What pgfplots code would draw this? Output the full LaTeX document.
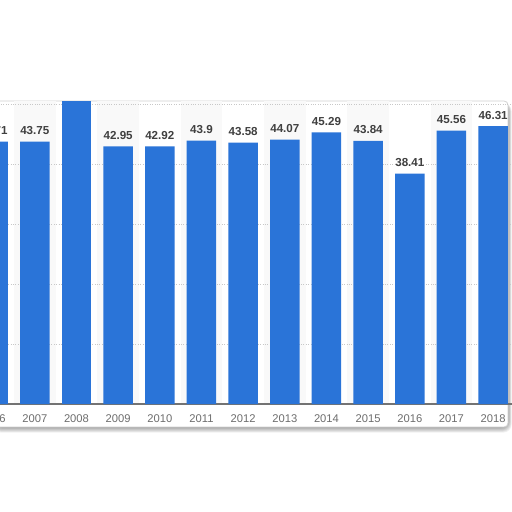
\documentclass[border=0pt]{standalone}
\usepackage{fontspec}
\setmainfont{Liberation Sans}
\usepackage{pgfplots}
\pgfplotsset{compat=1.18}
\definecolor{barblue}{RGB}{42,116,216}
\definecolor{lblgray}{RGB}{64,64,64}
\definecolor{tickgray}{RGB}{110,110,110}
\definecolor{colshade}{RGB}{249,249,249}
\definecolor{gridgray}{RGB}{200,200,200}
\begin{document}
\begin{tikzpicture}[x=1pt,y=1pt]
\useasboundingbox (0,0) rectangle (512,512);
\clip (0,0) rectangle (512,512);
\fill[white] (0,0) rectangle (512,512);
% shadow of the card
\foreach \i in {1,...,7}{
  \fill[black,opacity=0.055,rounded corners=8pt] (-5-\i*0.3,85-\i*0.8) rectangle (508+\i*0.5,409);
}
\fill[white,draw=black!18,line width=0.8pt,rounded corners=4pt] (-5,85) rectangle (508,411);
% faint column shading (odd years)
\foreach \k in {0,2,4,6,8,10}{
  \fill[colshade] ({34.8+\k*41.67-20.83},108) rectangle ({34.8+\k*41.67+20.83},410.5);
}
\begin{axis}[
  at={(-11.03pt,108pt)}, anchor=south west,
  scale only axis, width=523.03pt, height=303pt,
  xmin=2005.9, xmax=2018.452,
  ymin=0, ymax=50.5,
  axis x line*=bottom, axis y line*=left,
  x axis line style={draw=black!55,line width=1.5pt,-},
  y axis line style={draw=none},
  ytick={10,20,30,40,50}, yticklabels={}, ytick style={draw=none},
  ymajorgrids, major grid style={gridgray,dotted,line width=0.7pt},
  xtick={2006,...,2018},
  xticklabels={2006,2007,2008,2009,2010,2011,2012,2013,2014,2015,2016,2017,2018},
  xtick style={draw=none},
  xticklabel style={anchor=base,yshift=-18pt,font=\fontsize{11.2}{13}\selectfont,text=tickgray},
  /pgf/number format/assume math mode=true,
  clip=true,
]
\addplot[ybar,bar width=29.5pt,bar shift=0pt,fill=barblue,draw=none,
  nodes near coords={\pgfmathprintnumber[fixed,precision=2]{\pgfplotspointmeta}},
  nodes near coords style={anchor=base,inner sep=0pt,yshift=7pt,font=\bfseries\fontsize{11.6}{13}\selectfont,text=lblgray}]
coordinates {
(2006,43.71) (2007,43.75) (2009,42.95) (2010,42.92) (2011,43.9) (2012,43.58)
(2013,44.07) (2014,45.29) (2015,43.84) (2016,38.41) (2017,45.56) (2018,46.31)
};
\addplot[ybar,bar width=29.5pt,bar shift=0pt,fill=barblue,draw=none] coordinates {(2008,52)};
\end{axis}
\end{tikzpicture}
\end{document}
